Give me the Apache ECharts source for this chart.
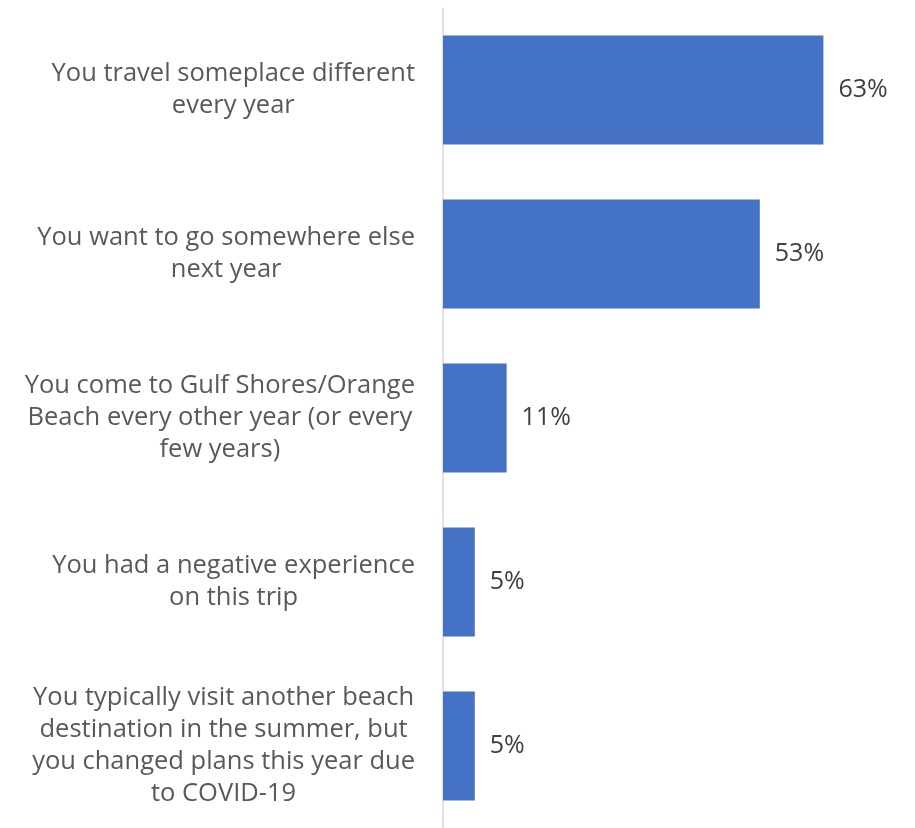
<!DOCTYPE html>
<html>
<head>
<meta charset="utf-8">
<script src="https://cdn.jsdelivr.net/npm/echarts@6/dist/echarts.min.js"></script>
<style>
  html, body { margin: 0; padding: 0; background: #fff; }
  #chart { width: 915px; height: 828px; }
</style>
</head>
<body>
<div id="chart"></div>
<script>
// reasons for not returning, share of respondents (%)
const categories = [
  'You travel someplace different\nevery year',
  'You want to go somewhere else\nnext year',
  'You come to Gulf Shores/Orange\nBeach every other year (or every\nfew years)',
  'You had a negative experience\non this trip',
  'You typically visit another beach\ndestination in the summer, but\nyou changed plans this year due\nto COVID-19'
]
const values = [63.4, 52.8, 10.6, 5.3, 5.3]

const FONT = 'Open Sans'

const chart = echarts.init(document.getElementById('chart'))
chart.setOption({
  animation: false,
  textStyle: { fontFamily: FONT },
  grid: {
    left: 443,
    top: 8,
    height: 824,
    right: 22,
    containLabel: false
  },
  xAxis: {
    type: 'value',
    min: 0,
    max: 75,
    show: false
  },
  yAxis: {
    type: 'category',
    inverse: true,
    data: categories,
    axisTick: { show: false },
    axisLine: {
      show: true,
      lineStyle: { color: '#d9d9d9', width: 1.5 }
    },
    axisLabel: {
      margin: 28,
      align: 'right',
      // center each line inside the right-aligned block
      formatter: v => v.split('\n').map(s => '{c|' + s + '}').join('\n'),
      rich: {
        c: {
          align: 'center',
          color: '#595959',
          fontFamily: FONT,
          fontSize: 25.5,
          lineHeight: 32
        }
      }
    }
  },
  series: [
    {
      type: 'bar',
      data: values,
      barWidth: 109,
      itemStyle: { color: '#4472c4' },
      label: {
        show: true,
        position: 'right',
        distance: 15,
        color: '#404040',
        fontFamily: FONT,
        fontSize: 25,
        formatter: p => Math.round(p.value) + '%'
      }
    }
  ]
})
</script>
</body>
</html>
